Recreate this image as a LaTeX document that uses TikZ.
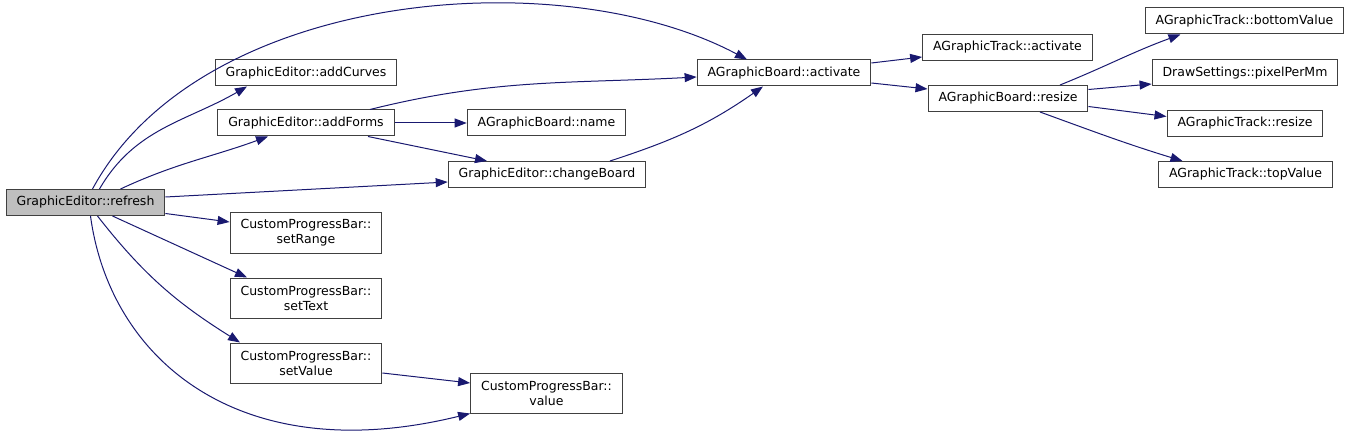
\documentclass[tikz,border=0pt]{standalone}
\usepackage{fontspec}
\setmainfont{DejaVu Sans}
\usepackage{xcolor}
\usepackage{tikz}
\usetikzlibrary{arrows.meta, positioning, calc}

\definecolor{edgeblue}{RGB}{25,25,112}
\definecolor{selgray}{RGB}{191,191,191}

\begin{document}
\begin{tikzpicture}[
    x=1pt, y=1pt,
    fn/.style={draw=black!75, line width=1pt, fill=white, align=center, inner xsep=10.5pt, inner ysep=0pt,
               minimum height=26pt, font=\fontsize{12.5}{15}\selectfont},
    fntwo/.style={fn, minimum height=40pt},
    cur/.style={fn, fill=selgray},
    call/.style={-{Triangle[length=12pt, width=9pt]}, edgeblue, line width=1pt}
]
\useasboundingbox (0,0) rectangle (1353,-433);

\node[cur]   (refresh)  at (85.5, -202.5) {GraphicEditor::refresh};
\node[fn]    (addcurv)  at (306,  -73)    {GraphicEditor::addCurves};
\node[fn]    (addform)  at (306,  -123)   {GraphicEditor::addForms};
\node[fntwo] (setrange) at (306,  -233)   {CustomProgressBar::\\setRange};
\node[fntwo] (settext)  at (306,  -298)   {CustomProgressBar::\\setText};
\node[fntwo] (setvalue) at (306,  -363)   {CustomProgressBar::\\setValue};
\node[fn]    (bname)    at (546.5,-123)   {AGraphicBoard::name};
\node[fn]    (chboard)  at (547,  -174.5) {GraphicEditor::changeBoard};
\node[fntwo] (pvalue)   at (546.5,-393)   {CustomProgressBar::\\value};
\node[fn]    (bactiv)   at (784,  -73)    {AGraphicBoard::activate};
\node[fn]    (tactiv)   at (1007.5,-47.5) {AGraphicTrack::activate};
\node[fn]    (bresize)  at (1008, -98.5)  {AGraphicBoard::resize};
\node[fn]    (tbottom)  at (1244.5,-21)   {AGraphicTrack::bottomValue};
\node[fn]    (pixmm)    at (1245, -73)    {DrawSettings::pixelPerMm};
\node[fn]    (tresize)  at (1245, -123.5) {AGraphicTrack::resize};
\node[fn]    (ttop)     at (1245.5,-174.5){AGraphicTrack::topValue};

% calls from refresh
\draw[call] ([xshift=7pt]refresh.north) .. controls (200,10) and (560,40) .. ([xshift=-37pt]bactiv.north);
\draw[call] ([xshift=14pt]refresh.north) to[out=60, in=-150] ([xshift=-59pt]addcurv.south);
\draw[call] ([xshift=35pt]refresh.north) to[out=25, in=-160] ([xshift=-38pt]addform.south);
\draw[call] ([yshift=5.5pt]refresh.east) -- ([yshift=-7.5pt]chboard.west);
\draw[call] ([yshift=-11pt]refresh.east) -- ([yshift=11pt]setrange.west);
\draw[call] ([xshift=27pt]refresh.south) -- ([xshift=-59pt]settext.north);
\draw[call] ([xshift=12pt]refresh.south) to[out=-52, in=148] ([xshift=-66pt]setvalue.north);
\draw[call] ([xshift=5pt]refresh.south) .. controls (110,-360) and (240,-470) .. (pvalue.south west);

% second level
\draw[call] ([xshift=64pt]addform.north) to[out=14, in=183] ([yshift=-4pt]bactiv.west);
\draw[call] (addform) -- (bname);
\draw[call] ([xshift=62pt]addform.south) -- ([xshift=-60pt]chboard.north);
\draw[call] ([xshift=63pt]chboard.north) to[out=18, in=-145] ([xshift=-21pt]bactiv.south);
\draw[call] ([yshift=-10pt]setvalue.east) -- ([yshift=10pt]pvalue.west);

% board calls
\draw[call] ([yshift=10pt]bactiv.east) -- ([yshift=-9.5pt]tactiv.west);
\draw[call] ([yshift=-10pt]bactiv.east) -- ([yshift=9.5pt]bresize.west);
\draw[call] ([xshift=52pt]bresize.north) to[out=22, in=-160] ([xshift=-64pt]tbottom.south);
\draw[call] ([yshift=9pt]bresize.east) -- ([yshift=-11pt]pixmm.west);
\draw[call] ([yshift=-8pt]bresize.east) -- ([yshift=7pt]tresize.west);
\draw[call] ([xshift=32pt]bresize.south) to[out=-20, in=163] ([xshift=-63pt]ttop.north);
\end{tikzpicture}
\end{document}
